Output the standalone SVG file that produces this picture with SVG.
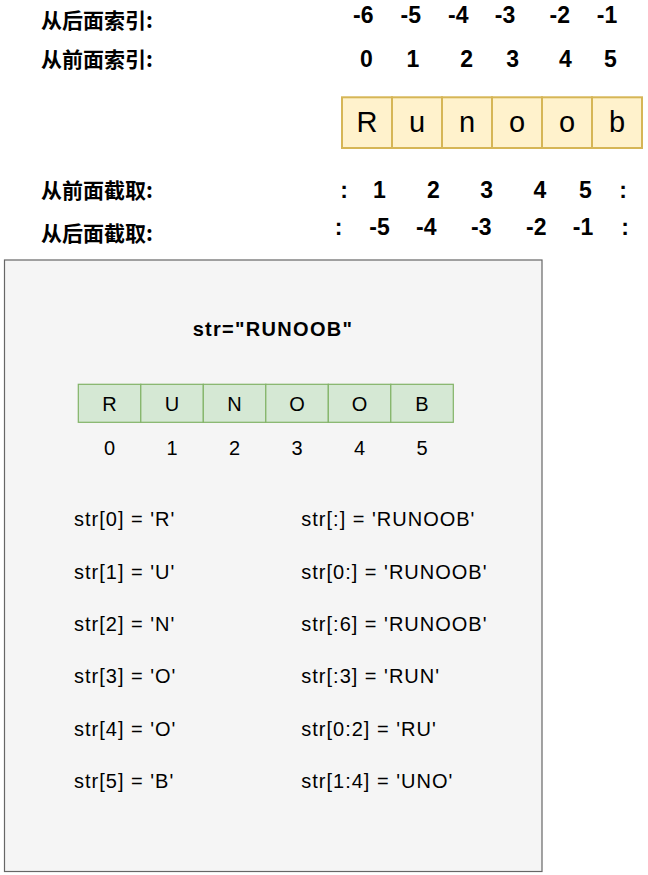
<svg xmlns="http://www.w3.org/2000/svg" width="648" height="875" viewBox="0 0 648 875">
<style>
.lbl{font-family:"Noto Sans CJK SC","Liberation Sans",sans-serif;font-weight:bold;font-size:21px;fill:#000}
.num{font-family:"Liberation Sans",Arial,sans-serif;font-weight:bold;font-size:23px;fill:#000;text-anchor:middle}
.ycell{fill:#fff2cc;stroke:#d6b656;stroke-width:2}
.ytxt{font-family:"Liberation Sans",Arial,sans-serif;font-size:29px;fill:#000;text-anchor:middle}
.gcell{fill:#d5e8d4;stroke:#82b366;stroke-width:1.2}
.gtxt{font-family:"Liberation Sans",Arial,sans-serif;font-size:20px;fill:#000;text-anchor:middle}
.code{font-family:"Liberation Sans",Arial,sans-serif;font-size:20px;letter-spacing:1px;fill:#000}
.title{font-family:"Liberation Sans",Arial,sans-serif;font-weight:bold;font-size:20px;letter-spacing:1.3px;fill:#000;text-anchor:middle}
</style>
<rect width="648" height="875" fill="#ffffff"/>
<g id="labels">
<text class="lbl" x="41" y="28">从后面索引:</text>
<text class="lbl" x="41" y="67">从前面索引:</text>
<text class="lbl" x="41" y="198">从前面截取:</text>
<text class="lbl" x="41" y="241">从后面截取:</text>
</g>
<g id="index-back">
<text class="num" x="363.3" y="23">-6</text>
<text class="num" x="410.8" y="23">-5</text>
<text class="num" x="458.3" y="23">-4</text>
<text class="num" x="505" y="23">-3</text>
<text class="num" x="559.7" y="23">-2</text>
<text class="num" x="607" y="23">-1</text>
</g>
<g id="index-front">
<text class="num" x="366.3" y="66.5">0</text>
<text class="num" x="413" y="66.5">1</text>
<text class="num" x="466.7" y="66.5">2</text>
<text class="num" x="512.7" y="66.5">3</text>
<text class="num" x="565.5" y="66.5">4</text>
<text class="num" x="610.3" y="66.5">5</text>
</g>
<g id="runoob-cells">
<rect class="ycell" x="342" y="97.3" width="50" height="50.7"/>
<rect class="ycell" x="392" y="97.3" width="50" height="50.7"/>
<rect class="ycell" x="442" y="97.3" width="50" height="50.7"/>
<rect class="ycell" x="492" y="97.3" width="50" height="50.7"/>
<rect class="ycell" x="542" y="97.3" width="50" height="50.7"/>
<rect class="ycell" x="592" y="97.3" width="50" height="50.7"/>
<text class="ytxt" x="367" y="132">R</text>
<text class="ytxt" x="417" y="132">u</text>
<text class="ytxt" x="467" y="132">n</text>
<text class="ytxt" x="517" y="132">o</text>
<text class="ytxt" x="567" y="132">o</text>
<text class="ytxt" x="617" y="132">b</text>
</g>
<g id="slice-front">
<text class="num" x="344" y="198">:</text>
<text class="num" x="379.5" y="198">1</text>
<text class="num" x="433.3" y="198">2</text>
<text class="num" x="486.7" y="198">3</text>
<text class="num" x="539.8" y="198">4</text>
<text class="num" x="585.5" y="198">5</text>
<text class="num" x="623" y="198">:</text>
</g>
<g id="slice-back">
<text class="num" x="338.5" y="235">:</text>
<text class="num" x="379.5" y="235">-5</text>
<text class="num" x="426.2" y="235">-4</text>
<text class="num" x="481.2" y="235">-3</text>
<text class="num" x="536.2" y="235">-2</text>
<text class="num" x="583" y="235">-1</text>
<text class="num" x="625" y="235">:</text>
</g>
<g id="panel">
<rect x="4.5" y="260" width="537.5" height="611.5" fill="#f5f5f5" stroke="#666666" stroke-width="1.2"/>
<text class="title" x="273" y="336">str="RUNOOB"</text>
</g>
<g id="str-cells">
<rect class="gcell" x="78.3" y="384.3" width="62.5" height="38"/>
<rect class="gcell" x="140.8" y="384.3" width="62.5" height="38"/>
<rect class="gcell" x="203.3" y="384.3" width="62.5" height="38"/>
<rect class="gcell" x="265.8" y="384.3" width="62.5" height="38"/>
<rect class="gcell" x="328.3" y="384.3" width="62.5" height="38"/>
<rect class="gcell" x="390.8" y="384.3" width="62.5" height="38"/>
<text class="gtxt" x="109.5" y="411">R</text>
<text class="gtxt" x="172" y="411">U</text>
<text class="gtxt" x="234.5" y="411">N</text>
<text class="gtxt" x="297" y="411">O</text>
<text class="gtxt" x="359.5" y="411">O</text>
<text class="gtxt" x="422" y="411">B</text>
<text class="gtxt" x="109.5" y="455">0</text>
<text class="gtxt" x="172" y="455">1</text>
<text class="gtxt" x="234.5" y="455">2</text>
<text class="gtxt" x="297" y="455">3</text>
<text class="gtxt" x="359.5" y="455">4</text>
<text class="gtxt" x="422" y="455">5</text>
</g>
<g id="index-examples">
<text class="code" x="74" y="526">str[0] = 'R'</text>
<text class="code" x="74" y="578.5">str[1] = 'U'</text>
<text class="code" x="74" y="631">str[2] = 'N'</text>
<text class="code" x="74" y="683">str[3] = 'O'</text>
<text class="code" x="74" y="735.5">str[4] = 'O'</text>
<text class="code" x="74" y="788">str[5] = 'B'</text>
</g>
<g id="slice-examples">
<text class="code" x="301.3" y="526">str[:] = 'RUNOOB'</text>
<text class="code" x="301.3" y="578.5">str[0:] = 'RUNOOB'</text>
<text class="code" x="301.3" y="631">str[:6] = 'RUNOOB'</text>
<text class="code" x="301.3" y="683">str[:3] = 'RUN'</text>
<text class="code" x="301.3" y="735.5">str[0:2] = 'RU'</text>
<text class="code" x="301.3" y="788">str[1:4] = 'UNO'</text>
</g>
</svg>
